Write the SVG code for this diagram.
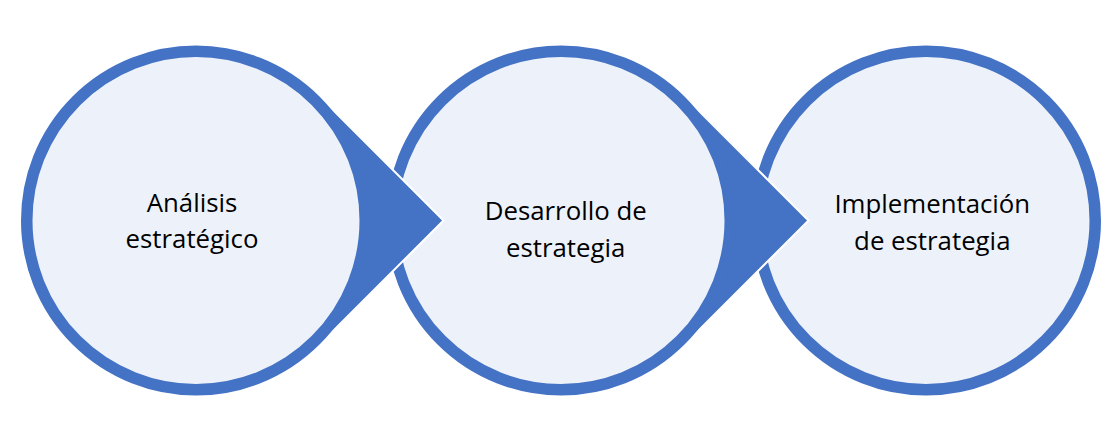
<svg xmlns="http://www.w3.org/2000/svg" width="1117" height="426" viewBox="0 0 1117 426">
  <style>
    .wedge { fill: #4472C4; stroke: #FFFFFF; stroke-width: 2; stroke-linejoin: miter; }
    .disc { fill: #EDF2FA; stroke: #4472C4; stroke-width: 11.5; }
    .label { font-family: "Open Sans", "Noto Sans", sans-serif; font-size: 25.8px; fill: #000000; text-anchor: middle; }
  </style>
  <rect width="1117" height="426" fill="#FFFFFF"/>
  <g id="connectors"/>
  <g id="node3">
    <circle class="disc" cx="926" cy="220.5" r="169.25"/>
    <text class="label" x="932.3" y="213.3">Implementación</text>
    <text class="label" x="932.3" y="250">de estrategia</text>
  </g>
  <g id="node2">
    <path class="wedge" d="M684.74,96.76 L808.49,220.5 L684.74,344.24 A175,175 0 1 1 684.74,96.76 Z"/>
    <circle class="disc" cx="561" cy="220.5" r="169.25"/>
    <text class="label" x="565.7" y="220">Desarrollo de</text>
    <text class="label" x="565.7" y="256.5">estrategia</text>
  </g>
  <g id="node1">
    <path class="wedge" d="M319.74,96.76 L443.49,220.5 L319.74,344.24 A175,175 0 1 1 319.74,96.76 Z"/>
    <circle class="disc" cx="196" cy="220.5" r="169.25"/>
    <text class="label" x="192" y="211.5">Análisis</text>
    <text class="label" x="192" y="247.5">estratégico</text>
  </g>
</svg>
